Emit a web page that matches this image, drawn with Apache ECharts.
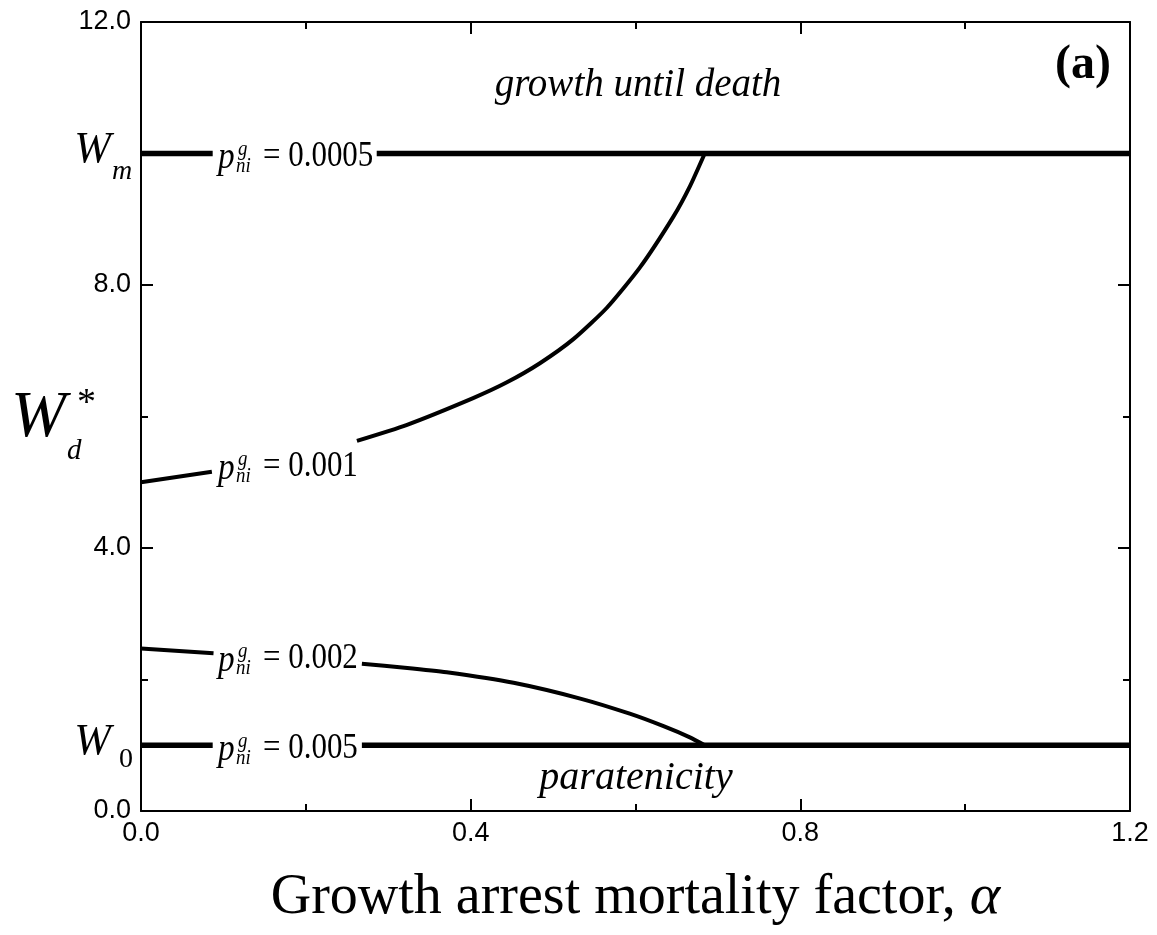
<!DOCTYPE html>
<html>
<head>
<meta charset="utf-8">
<script src="https://cdn.jsdelivr.net/npm/echarts@6/dist/echarts.min.js"></script>
<style>
html,body{margin:0;padding:0;background:#fff;}
#chart{width:1157px;height:935px;}
</style>
</head>
<body>
<div id="chart"></div>
<script>
// ---------- data ----------
const xTickLabels = ['0.0', '0.4', '0.8', '1.2'];
const yTickLabels = ['0.0', '4.0', '8.0', '12.0'];

const W_MAX = 10;   // W_m
const W_0 = 1;      // W_0

// p = 0.0005 : growth until death (flat at W_m); null = gap for label
const alpha0005 = [0, 0.087, null, 0.286, 1.2];
const w0005     = [W_MAX, W_MAX, null, W_MAX, W_MAX];

// p = 0.001
const alpha001 = [0, 0.086, null, 0.262, 0.322, 0.403, 0.444, 0.484, 0.525, 0.565, 0.605, 0.646, 0.666, 0.684];
const w001     = [5.0, 5.16, null, 5.63, 5.87, 6.28, 6.52, 6.81, 7.18, 7.65, 8.26, 9.04, 9.50, 10.0];

// p = 0.002
const alpha002 = [0, 0.088, null, 0.268, 0.320, 0.371, 0.452, 0.533, 0.593, 0.634, 0.666, 0.684];
const w002     = [2.47, 2.40, null, 2.24, 2.18, 2.11, 1.95, 1.71, 1.48, 1.29, 1.12, 1.0];

// p = 0.005 : paratenicity (flat at W_0)
const alpha005 = [0, 0.087, null, 0.268, 1.2];
const w005     = [W_0, W_0, null, W_0, W_0];

const pLabels = ['0.0005', '0.001', '0.002', '0.005'];

// ---------- placement (not data) ----------
const labelPlace = [[0.0934, 10], [0.0934, 5.28], [0.0934, 2.36], [0.0934, 1.0]];

const SERIF = '"Liberation Serif","Times New Roman",serif';
const SANS = '"Liberation Sans",Arial,sans-serif';

function pairs(xs, ys) {
  return xs.map((x, i) => (x === null || ys[i] === null) ? ['-', '-'] : [x, ys[i]]);
}

function lineSeries(name, xs, ys, width, smooth) {
  return {
    name: name, type: 'line', data: pairs(xs, ys),
    showSymbol: false, symbol: 'none', connectNulls: false,
    smooth: smooth ? 0.2 : false,
    lineStyle: {color: '#000', width: width, cap: 'butt'},
    silent: true, animation: false, z: 3
  };
}

const chart = echarts.init(document.getElementById('chart'), null, {renderer: 'canvas'});

const axisCommon = {
  axisLine: {show: true, onZero: false, lineStyle: {color: '#000', width: 2}},
  axisTick: {show: true, inside: true, length: 12, lineStyle: {color: '#000', width: 2}},
  minorTick: {show: true, splitNumber: 2, length: 7, lineStyle: {color: '#000', width: 2}},
  splitLine: {show: false},
  minorSplitLine: {show: false}
};

const option = {
  backgroundColor: '#fff',
  animation: false,
  grid: {left: 141, right: 27, top: 22, bottom: 124, containLabel: false, outerBoundsMode: 'none'},
  xAxis: [
    Object.assign({
      type: 'value', min: 0, max: 1.2, interval: 0.4, position: 'bottom',
      axisLabel: {
        formatter: (v) => xTickLabels[Math.round(v / 0.4)],
        fontFamily: SANS, fontSize: 27, color: '#000', margin: 9
      },
      name: '{t|Growth arrest mortality factor, }{a|α}',
      nameLocation: 'middle', nameGap: 58,
      nameTextStyle: {
        rich: {
          t: {fontFamily: SERIF, fontSize: 56, color: '#000'},
          a: {fontFamily: SERIF, fontStyle: 'italic', fontSize: 58, color: '#000'}
        }
      }
    }, axisCommon),
    Object.assign({
      type: 'value', min: 0, max: 1.2, interval: 0.4, position: 'top',
      axisLabel: {show: false}
    }, axisCommon)
  ],
  yAxis: [
    Object.assign({
      type: 'value', min: 0, max: 12, interval: 4, position: 'left',
      axisLabel: {
        formatter: (v) => yTickLabels[Math.round(v / 4)],
        fontFamily: SANS, fontSize: 27, color: '#000', margin: 10
      }
    }, axisCommon),
    Object.assign({
      type: 'value', min: 0, max: 12, interval: 4, position: 'right',
      axisLabel: {show: false}
    }, axisCommon)
  ],
  series: [
    lineSeries('p=0.0005', alpha0005, w0005, 5.5, false),
    lineSeries('p=0.001', alpha001, w001, 4, true),
    lineSeries('p=0.002', alpha002, w002, 4, true),
    lineSeries('p=0.005', alpha005, w005, 5.5, false),
    {
      type: 'custom', name: 'labels', silent: true, animation: false, z: 5,
      data: labelPlace,
      encode: {x: 0, y: 1},
      renderItem: function (params, api) {
        const i = params.dataIndex;
        const pt = api.coord([api.value(0), api.value(1)]);
        return {
          type: 'group', x: pt[0], y: pt[1],
          children: [
            {type: 'text', scaleX: 0.9, style: {text: 'p', x: 0, y: 5, font: 'italic 37px ' + SERIF, fill: '#000', align: 'left', verticalAlign: 'middle'}},
            {type: 'text', x: 20, scaleX: 0.9, style: {text: 'g', x: 0, y: -4, font: 'italic 21px ' + SERIF, fill: '#000', align: 'left', verticalAlign: 'middle'}},
            {type: 'text', x: 18, scaleX: 0.9, style: {text: 'ni', x: 0, y: 13, font: 'italic 21px ' + SERIF, fill: '#000', align: 'left', verticalAlign: 'middle'}},
            {type: 'text', x: 45, scaleX: 0.86, style: {text: '= ' + pLabels[i], x: 0, y: 3, font: '36px ' + SERIF, fill: '#000', align: 'left', verticalAlign: 'middle'}}
          ]
        };
      }
    }
  ],
  graphic: [
    // W_m
    {type: 'text', x: 111, y: 150, style: {text: 'W', font: 'italic 44px ' + SERIF, fill: '#000', align: 'right', verticalAlign: 'middle'}},
    {type: 'text', x: 112, y: 172, style: {text: 'm', font: 'italic 28px ' + SERIF, fill: '#000', align: 'left', verticalAlign: 'middle'}},
    // W_0
    {type: 'text', x: 111, y: 742, style: {text: 'W', font: 'italic 44px ' + SERIF, fill: '#000', align: 'right', verticalAlign: 'middle'}},
    {type: 'text', x: 119, y: 760, style: {text: '0', font: '28px ' + SERIF, fill: '#000', align: 'left', verticalAlign: 'middle'}},
    // W_d^*
    {type: 'text', x: 11, y: 419, style: {text: 'W', font: 'italic 66px ' + SERIF, fill: '#000', align: 'left', verticalAlign: 'middle'}},
    {type: 'text', x: 77, y: 404, style: {text: '*', font: '38px ' + SERIF, fill: '#000', align: 'left', verticalAlign: 'middle'}},
    {type: 'text', x: 67, y: 451, style: {text: 'd', font: 'italic 29px ' + SERIF, fill: '#000', align: 'left', verticalAlign: 'middle'}},
    // region annotations
    {type: 'text', x: 638, y: 86, style: {text: 'growth until death', font: 'italic 39px ' + SERIF, fill: '#000', align: 'center', verticalAlign: 'middle'}},
    {type: 'text', x: 636, y: 778, style: {text: 'paratenicity', font: 'italic 40px ' + SERIF, fill: '#000', align: 'center', verticalAlign: 'middle'}},
    {type: 'text', x: 1083, y: 66, style: {text: '(a)', font: 'bold 48px ' + SERIF, fill: '#000', align: 'center', verticalAlign: 'middle'}}
  ]
};

chart.setOption(option);
</script>
</body>
</html>
